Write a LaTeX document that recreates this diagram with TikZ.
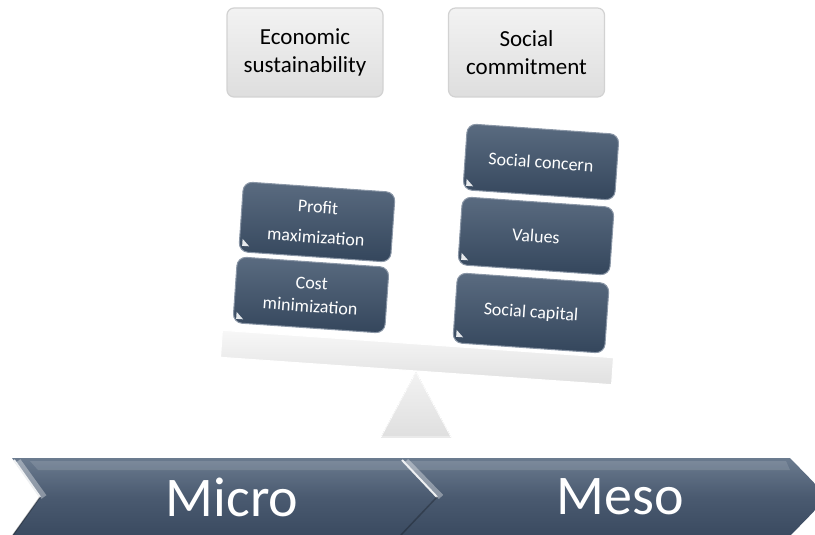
\documentclass[tikz,border=0pt]{standalone}
\usepackage{fontspec}
\setmainfont{Carlito}
\usetikzlibrary{calc}

\definecolor{slatetop}{HTML}{5A6B80}
\definecolor{slatebot}{HTML}{34465C}
\definecolor{slateedge}{HTML}{8A96A6}
\definecolor{chevtop}{HTML}{6B7B8F}
\definecolor{chevmid}{HTML}{4A5A70}
\definecolor{chevbot}{HTML}{3A4A60}

\begin{document}
\begin{tikzpicture}[x=1pt,y=-1pt,
  topbox/.style={rounded corners=7pt, draw=gray!35, line width=1.2pt,
    top color=gray!10, bottom color=gray!26, minimum width=156pt,
    minimum height=89pt, align=center, inner sep=0pt, text=black,
    font=\fontsize{23}{28}\selectfont},
  darkbox/.style={rounded corners=9pt, draw=slateedge, line width=1pt,
    top color=slatetop, bottom color=slatebot, minimum width=152pt,
    minimum height=66pt, align=center, inner sep=0pt, text=white,
    rotate=-4},
  boxfont/.style={font=\fontsize{18}{#1}\selectfont},
  beamstyle/.style={draw=white, line width=1pt, top color=gray!6,
    bottom color=gray!24, minimum width=392pt, minimum height=27pt,
    inner sep=0pt, rotate=-4},
  chevron/.style={top color=chevtop, bottom color=chevbot, middle color=chevmid},
  chevtext/.style={text=white, font=\fontsize{56}{60}\selectfont, inner sep=0pt},
  notchglow/.style={white, opacity=0.35, line width=6pt},
  notchlight/.style={white!90!slatetop, line width=2pt},
  notchshade/.style={black, opacity=0.25, line width=1.5pt},
]
\useasboundingbox (0,0) rectangle (815,535);
\clip (0,0) rectangle (815,535);

% small bevel mark in the lower left corner of a dark box
\newcommand{\bevelmark}[1]{%
  \begin{scope}[shift={(#1.center)}, rotate=-4]
    \fill[white!85!slatetop] (-73,29) -- (-73,22) -- (-66,29) -- cycle;
  \end{scope}}

% headings
\node[topbox] (econ) at (305,52.5) {Economic\\sustainability};
\node[topbox] (soc)  at (526.5,52.5) {Social\\commitment};

% fulcrum and beam
\fill[top color=gray!10, bottom color=gray!25, draw=white, line width=0.8pt]
  (416,372) -- (451,437) -- (381,437) -- cycle;
\node[beamstyle] (beam) at (417,357.5) {};

% weights on the left
\node[darkbox, boxfont=23] (cost)   at (311,295) {Cost\\minimization};
\node[darkbox, boxfont=30, minimum height=70pt] (profit) at (317,222) {Profit\\maximization};
\bevelmark{cost}
\bevelmark{profit}

% weights on the right
\node[darkbox, boxfont=22, minimum height=70pt] (capital) at (531,313) {Social capital};
\node[darkbox, boxfont=22, minimum height=68pt] (values)  at (536,236) {Values};
\node[darkbox, boxfont=22] (concern) at (541,162) {Social concern};
\bevelmark{capital}
\bevelmark{values}
\bevelmark{concern}

% process chevrons
\path[chevron] (12,458) -- (440,458) -- (478,497) -- (440,536) -- (12,536)
  -- (40,497) -- cycle;
\path[chevron] (400,458) -- (790,458) -- (828,497) -- (790,536) -- (400,536)
  -- (437,497) -- cycle;
\fill[white, opacity=0.12] (30,461) -- (786,461) -- (790,470) -- (38,470) -- cycle;

% highlights along the notches
\draw[notchglow] (18,461) -- (44,497);
\draw[notchlight] (14,460) -- (40,497);
\draw[notchshade] (40,497) -- (13,535);
\draw[notchglow] (406,461) -- (441,497);
\draw[notchlight] (402,460) -- (437,497);
\draw[notchshade] (437,497) -- (401,535);

\node[chevtext] (micro) at (232,497) {Micro};
\node[chevtext] (meso)  at (620,497) {Meso};
\end{tikzpicture}
\end{document}
